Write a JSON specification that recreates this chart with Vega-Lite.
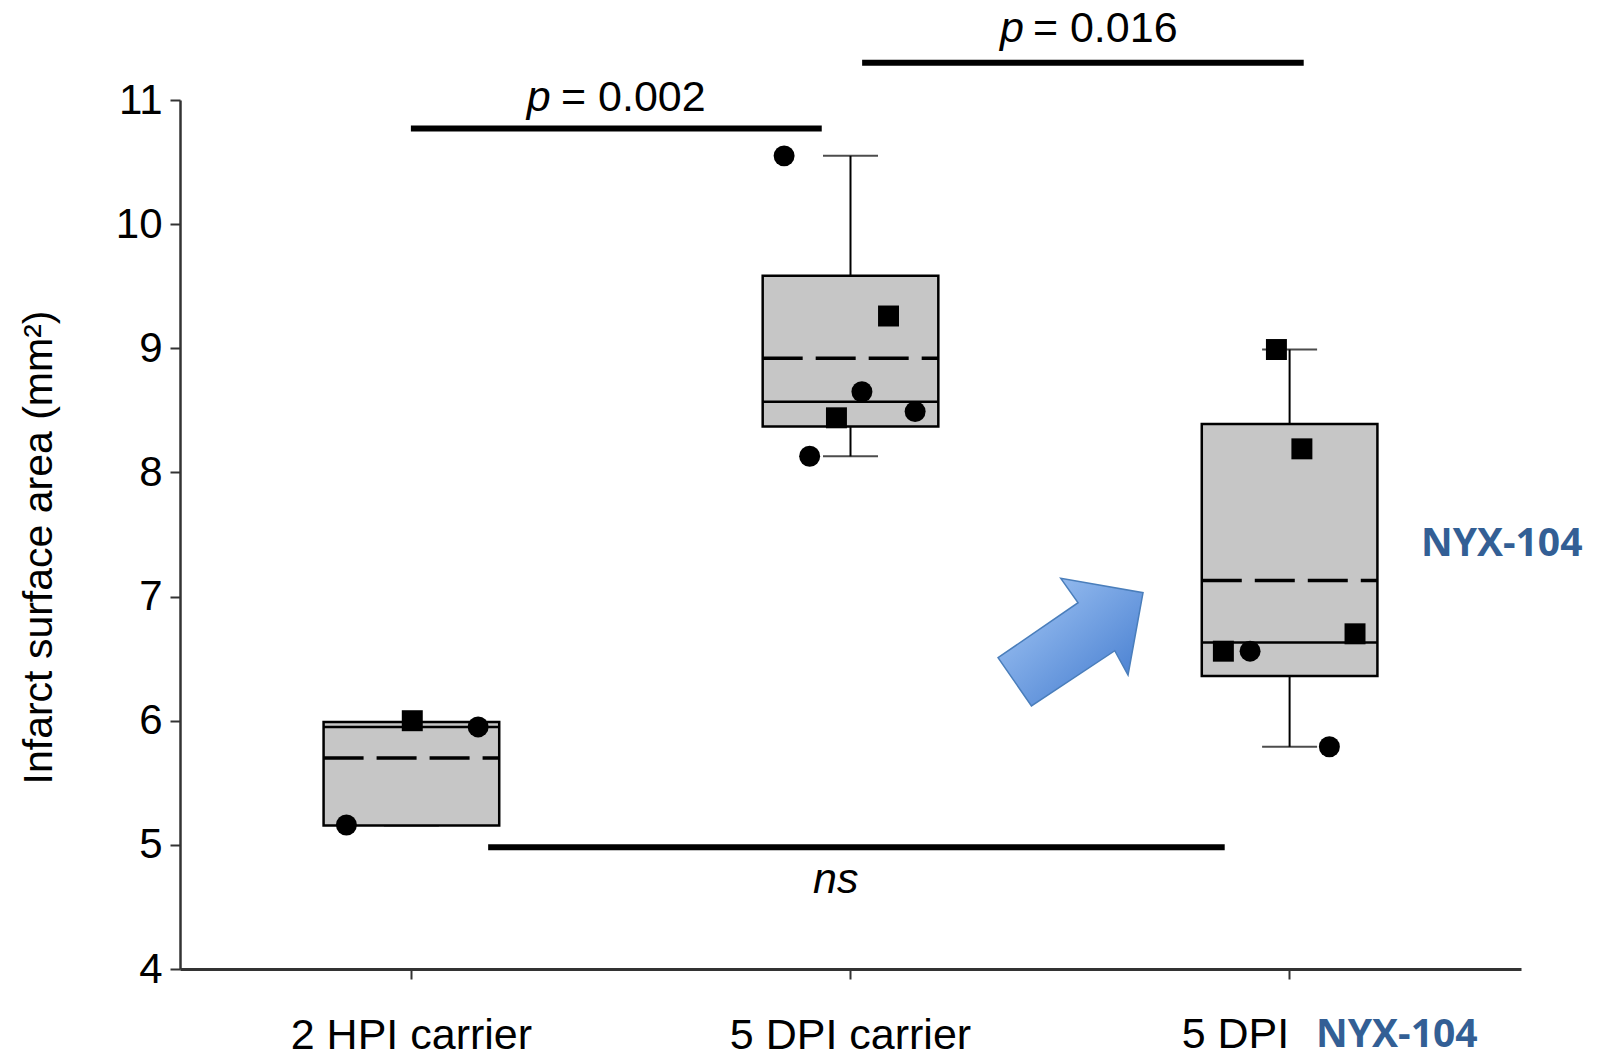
{
  "$schema": "https://vega.github.io/schema/vega-lite/v6.json",
  "width": 1341,
  "height": 869,
  "autosize": {"type": "none"},
  "padding": {"left": 180, "top": 100, "right": 83, "bottom": 88},
  "background": "white",
  "config": {"view": {"stroke": null}, "font": "Liberation Sans"},
  "datasets": {
    "stats": [
      {"group": "2 HPI carrier", "q1": 5.155, "q3": 5.99, "median": 5.95, "mean": 5.70, "min": 5.155, "max": 5.99},
      {"group": "5 DPI carrier", "q1": 8.37, "q3": 9.585, "median": 8.57, "mean": 8.92, "min": 8.13, "max": 10.55},
      {"group": "5 DPI NYX-104", "q1": 6.36, "q3": 8.39, "median": 6.63, "mean": 7.13, "min": 5.79, "max": 8.99}
    ],
    "points": [
      {"group": "2 HPI carrier", "kind": "b", "jit": 0.01, "value": 6.00},
      {"group": "2 HPI carrier", "kind": "a", "jit": 0.76, "value": 5.95},
      {"group": "2 HPI carrier", "kind": "a", "jit": -0.74, "value": 5.16},
      {"group": "5 DPI carrier", "kind": "a", "jit": -0.756, "value": 10.55},
      {"group": "5 DPI carrier", "kind": "b", "jit": 0.433, "value": 9.26},
      {"group": "5 DPI carrier", "kind": "a", "jit": 0.13, "value": 8.65},
      {"group": "5 DPI carrier", "kind": "a", "jit": 0.736, "value": 8.49},
      {"group": "5 DPI carrier", "kind": "b", "jit": -0.16, "value": 8.44},
      {"group": "5 DPI carrier", "kind": "a", "jit": -0.465, "value": 8.13},
      {"group": "5 DPI NYX-104", "kind": "b", "jit": -0.15, "value": 8.99},
      {"group": "5 DPI NYX-104", "kind": "b", "jit": 0.14, "value": 8.19},
      {"group": "5 DPI NYX-104", "kind": "b", "jit": 0.745, "value": 6.70},
      {"group": "5 DPI NYX-104", "kind": "b", "jit": -0.754, "value": 6.56},
      {"group": "5 DPI NYX-104", "kind": "a", "jit": -0.45, "value": 6.56},
      {"group": "5 DPI NYX-104", "kind": "a", "jit": 0.453, "value": 5.79}
    ],
    "sig": [
      {"from": 1.0, "to": 1.936, "y": 10.77},
      {"from": 2.028, "to": 3.034, "y": 11.30},
      {"from": 1.176, "to": 2.854, "y": 4.98}
    ],
    "notes": [
      {"x": 1.264, "y": 11.02, "text": "p", "kind": "italic"},
      {"x": 2.342, "y": 11.57, "text": "p", "kind": "italic"},
      {"x": 1.916, "y": 4.72, "text": "ns", "kind": "italic"},
      {"x": 1.342, "y": 11.02, "text": "= 0.002", "kind": "normal"},
      {"x": 2.417, "y": 11.57, "text": "= 0.016", "kind": "normal"},
      {"x": 2.756, "y": 3.47, "text": "5 DPI", "kind": "normal"},
      {"x": 3.485, "y": 7.42, "text": "NYX-104", "kind": "blue"},
      {"x": 3.246, "y": 3.47, "text": "NYX-104", "kind": "blue"}
    ],
    "arrow": [{"x": 2.501, "y": 6.634}]
  },
  "layer": [
    {
      "layer": [
        {
          "data": {"name": "stats"},
          "mark": {"type": "rule", "stroke": "black", "strokeWidth": 2},
          "encoding": {
            "x": {"field": "group", "type": "nominal", "sort": ["2 HPI carrier", "5 DPI carrier", "5 DPI NYX-104"]},
            "y": {"field": "q3", "type": "quantitative"},
            "y2": {"field": "max"}
          }
        },
        {
          "data": {"name": "stats"},
          "mark": {"type": "rule", "stroke": "black", "strokeWidth": 2},
          "encoding": {
            "x": {"field": "group", "type": "nominal", "sort": ["2 HPI carrier", "5 DPI carrier", "5 DPI NYX-104"]},
            "y": {"field": "min", "type": "quantitative"},
            "y2": {"field": "q1"}
          }
        },
        {
          "data": {"name": "stats"},
          "mark": {"type": "tick", "color": "black", "size": 55, "thickness": 2},
          "encoding": {
            "x": {"field": "group", "type": "nominal", "sort": ["2 HPI carrier", "5 DPI carrier", "5 DPI NYX-104"]},
            "y": {"field": "max", "type": "quantitative"}
          }
        },
        {
          "data": {"name": "stats"},
          "mark": {"type": "tick", "color": "black", "size": 55, "thickness": 2},
          "encoding": {
            "x": {"field": "group", "type": "nominal", "sort": ["2 HPI carrier", "5 DPI carrier", "5 DPI NYX-104"]},
            "y": {"field": "min", "type": "quantitative"}
          }
        },
        {
          "data": {"name": "stats"},
          "mark": {"type": "bar", "fill": "#c6c6c6", "stroke": "black", "strokeWidth": 2.5},
          "encoding": {
            "x": {
              "field": "group",
              "type": "nominal",
              "sort": ["2 HPI carrier", "5 DPI carrier", "5 DPI NYX-104"],
              "scale": {"type": "band", "domain": ["2 HPI carrier", "5 DPI carrier", "5 DPI NYX-104"], "paddingInner": 0.6, "paddingOuter": 0.327},
              "axis": {
                "title": null,
                "labelAngle": 0,
                "labelAlign": "center",
                "labelLimit": 0,
                "labelExpr": "datum.value == '5 DPI NYX-104' ? '' : datum.value",
                "labelFont": "Liberation Sans",
                "labelFontSize": 43,
                "labelColor": "black",
                "labelPadding": 56,
                "tickSize": 10,
                "tickWidth": 2,
                "tickColor": "#333333",
                "domainColor": "#333333",
                "domainWidth": 3,
                "grid": false
              }
            },
            "y": {
              "field": "q1",
              "type": "quantitative",
              "scale": {"domain": [4, 11], "nice": false, "zero": false},
              "axis": {
                "title": "Infarct surface area (mm²)",
                "values": [4, 5, 6, 7, 8, 9, 10, 11],
                "format": "d",
                "grid": false,
                "labelFont": "Liberation Sans",
                "labelFontSize": 42,
                "labelColor": "black",
                "labelPadding": 8,
                "tickSize": 10,
                "tickWidth": 2,
                "tickColor": "#333333",
                "domainColor": "#333333",
                "domainWidth": 2.5,
                "titleFont": "Liberation Sans",
                "titleFontSize": 41,
                "titleFontWeight": "normal",
                "titleColor": "black",
                "titleAngle": -90,
                "titleAlign": "center",
                "titleBaseline": "middle",
                "titleX": -141,
                "titleY": 447
              }
            },
            "y2": {"field": "q3"}
          }
        },
        {
          "data": {"name": "stats"},
          "mark": {"type": "rule", "stroke": "black", "strokeWidth": 2.5},
          "encoding": {
            "x": {"field": "group", "type": "nominal", "sort": ["2 HPI carrier", "5 DPI carrier", "5 DPI NYX-104"], "bandPosition": 0},
            "x2": {"field": "group", "bandPosition": 1},
            "y": {"field": "median", "type": "quantitative"}
          }
        },
        {
          "data": {"name": "stats"},
          "mark": {"type": "rule", "stroke": "black", "strokeWidth": 3.5, "strokeDash": [40, 13]},
          "encoding": {
            "x": {"field": "group", "type": "nominal", "sort": ["2 HPI carrier", "5 DPI carrier", "5 DPI NYX-104"], "bandPosition": 0},
            "x2": {"field": "group", "bandPosition": 1},
            "y": {"field": "mean", "type": "quantitative"}
          }
        }
      ]
    },
    {
      "data": {"name": "points"},
      "mark": {"type": "point", "filled": true, "color": "black", "opacity": 1, "size": 440},
      "encoding": {
        "x": {
          "field": "group",
          "type": "nominal",
          "sort": ["2 HPI carrier", "5 DPI carrier", "5 DPI NYX-104"],
          "scale": {"type": "band", "domain": ["2 HPI carrier", "5 DPI carrier", "5 DPI NYX-104"], "paddingInner": 0.6, "paddingOuter": 0.327},
          "axis": null
        },
        "xOffset": {"field": "jit", "type": "quantitative", "scale": {"domain": [-1, 1]}},
        "y": {"field": "value", "type": "quantitative"},
        "shape": {"field": "kind", "type": "nominal", "scale": {"domain": ["a", "b"], "range": ["circle", "square"]}, "legend": null}
      }
    },
    {
      "layer": [
        {
          "data": {"name": "sig"},
          "mark": {"type": "rule", "stroke": "black", "strokeWidth": 6},
          "encoding": {
            "x": {"field": "from", "type": "quantitative", "scale": {"domain": [0.474, 3.529], "nice": false, "zero": false}, "axis": null},
            "x2": {"field": "to"},
            "y": {"field": "y", "type": "quantitative"}
          }
        },
        {
          "data": {"name": "notes"},
          "transform": [{"filter": "datum.kind == 'italic'"}],
          "mark": {"type": "text", "align": "left", "baseline": "middle", "fontStyle": "italic", "fontSize": 43, "font": "Liberation Sans", "color": "black"},
          "encoding": {
            "x": {"field": "x", "type": "quantitative"},
            "y": {"field": "y", "type": "quantitative"},
            "text": {"field": "text"}
          }
        },
        {
          "data": {"name": "notes"},
          "transform": [{"filter": "datum.kind == 'normal'"}],
          "mark": {"type": "text", "align": "left", "baseline": "middle", "fontSize": 43, "font": "Liberation Sans", "color": "black"},
          "encoding": {
            "x": {"field": "x", "type": "quantitative"},
            "y": {"field": "y", "type": "quantitative"},
            "text": {"field": "text"}
          }
        },
        {
          "data": {"name": "notes"},
          "transform": [{"filter": "datum.kind == 'blue'"}],
          "mark": {"type": "text", "align": "center", "baseline": "middle", "fontSize": 39, "fontWeight": "bold", "font": "Open Sans", "color": "#335f95"},
          "encoding": {
            "x": {"field": "x", "type": "quantitative"},
            "y": {"field": "y", "type": "quantitative"},
            "text": {"field": "text"}
          }
        },
        {
          "data": {"name": "arrow"},
          "mark": {
            "type": "point",
            "shape": "M-0.956,0.209L0.111,-0.524L-0.12,-0.849L0.977,-0.657L0.777,0.44L0.6,0.116L-0.511,0.853Z",
            "size": 22500,
            "filled": true,
            "opacity": 1,
            "fill": {"gradient": "linear", "x1": 0, "y1": 0, "x2": 1, "y2": 1, "stops": [{"offset": 0, "color": "#a9cbf7"}, {"offset": 1, "color": "#3c76cc"}]},
            "stroke": "#4a7ebb",
            "strokeWidth": 1.5
          },
          "encoding": {
            "x": {"field": "x", "type": "quantitative"},
            "y": {"field": "y", "type": "quantitative"}
          }
        }
      ]
    }
  ],
  "resolve": {"scale": {"x": "independent", "xOffset": "independent"}}
}
